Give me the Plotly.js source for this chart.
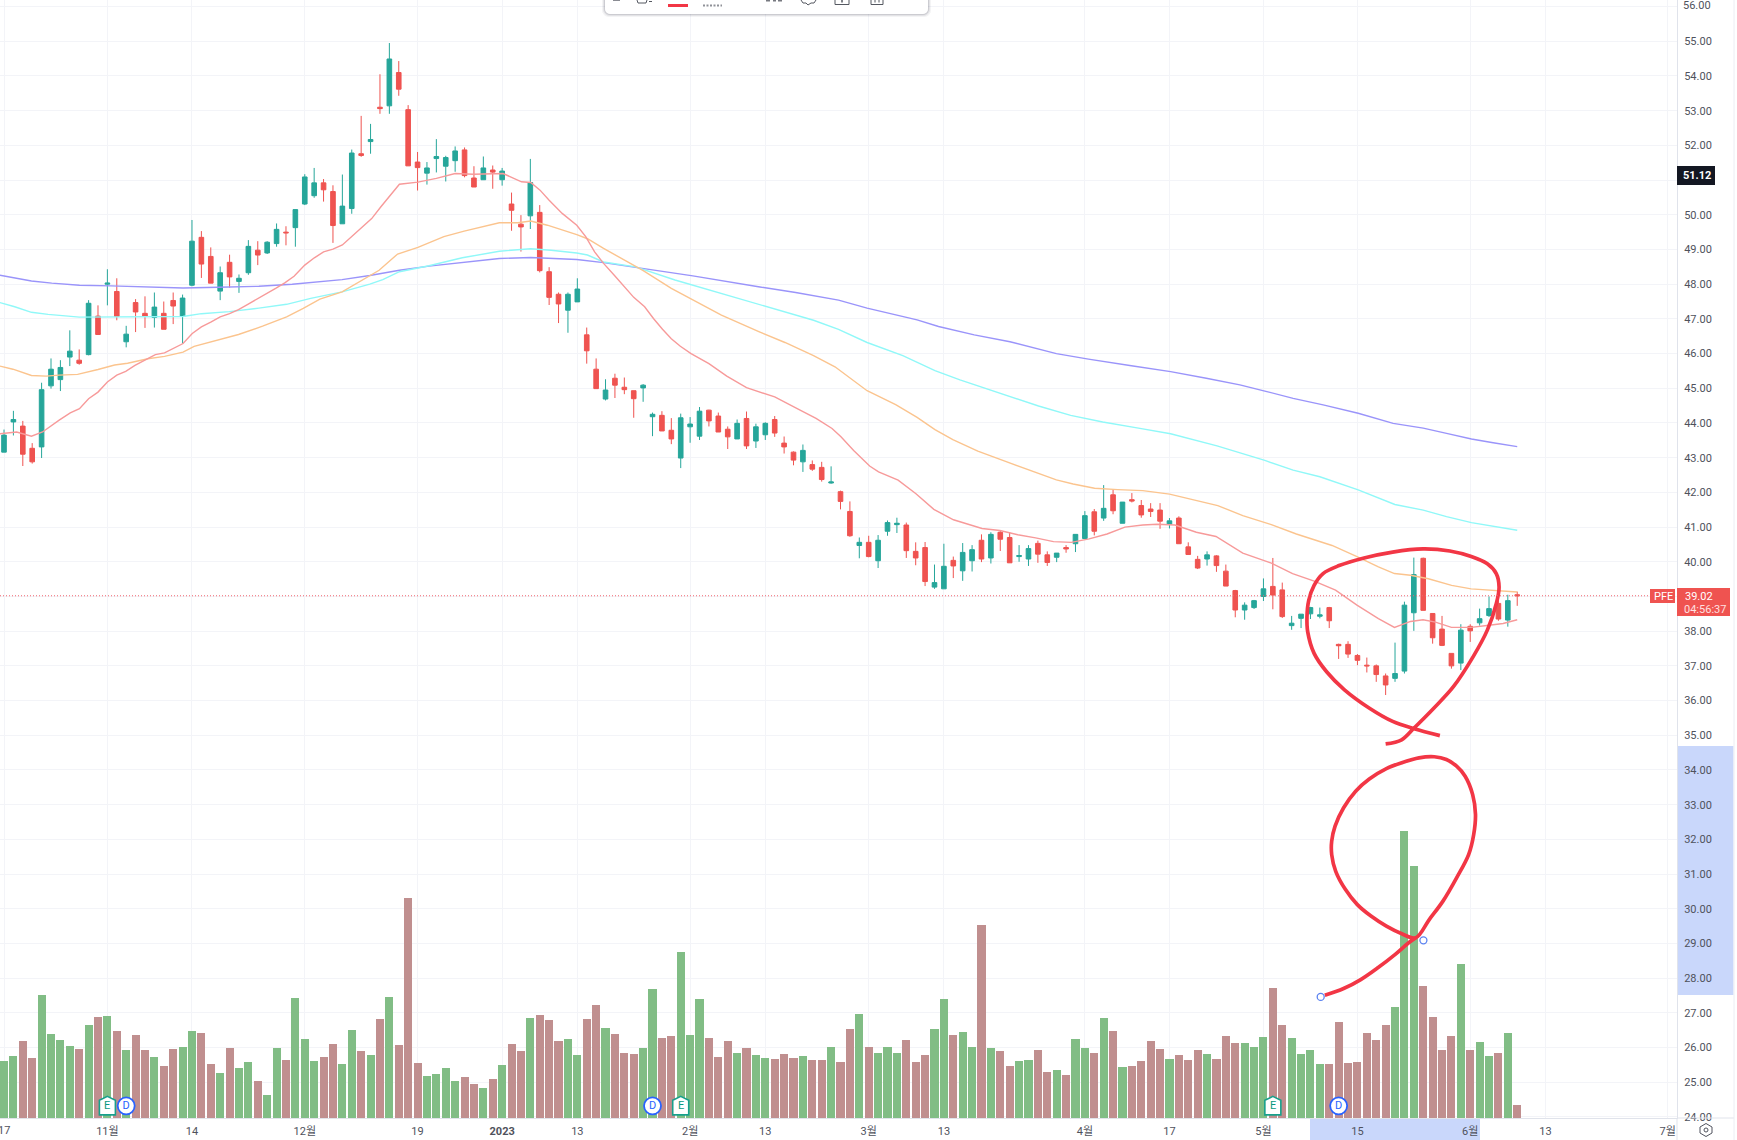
<!DOCTYPE html>
<html>
<head>
<meta charset="utf-8">
<script src="https://cdn.plot.ly/plotly-3.0.1.min.js"></script>
<style>html,body{margin:0;padding:0;background:#fff;overflow:hidden}#chart{width:1737px;height:1140px}</style>
</head>
<body>
<div id="chart"></div>
<script>
const opens = [43.16,44.03,43.91,43.27,43.31,45.07,45.25,45.90,45.81,45.97,
47.08,48.00,47.79,46.34,47.47,47.16,47.04,47.16,47.53,47.07,
47.97,49.35,48.80,47.80,48.63,48.08,48.33,48.98,48.90,49.17,
49.50,49.63,50.31,50.55,50.92,50.67,49.74,50.18,51.76,52.11,
53.10,53.14,54.10,53.03,51.52,51.20,51.62,51.40,51.56,51.87,
51.06,51.01,51.29,51.01,50.31,49.73,49.97,50.07,48.36,47.71,
47.25,47.49,46.54,45.55,44.69,45.29,45.03,44.93,45.01,44.18,
44.22,43.79,42.99,43.89,43.62,44.37,44.20,43.82,43.54,44.13,
43.48,43.66,44.10,43.42,43.16,42.88,42.80,42.72,42.27,42.02,
41.45,40.47,40.56,40.03,40.88,41.07,41.06,40.30,40.41,39.27,
39.22,40.04,39.74,40.03,40.62,40.11,40.85,40.70,40.15,40.08,
40.53,40.20,40.13,40.41,40.52,40.67,41.44,41.26,41.93,41.11,
41.79,41.62,41.52,41.49,41.08,41.26,40.43,40.07,40.08,40.17,
39.73,39.17,38.61,38.68,39.00,39.29,39.19,38.16,38.37,38.50,
38.43,38.68,37.62,37.62,37.30,37.02,37.00,36.71,36.64,36.85,
38.53,40.10,38.51,38.06,37.36,37.08,38.14,38.24,38.45,38.80,
38.32,39.05];
const closes = [43.65,44.10,43.10,42.88,44.96,45.55,45.60,46.07,45.72,47.45,
46.55,48.03,47.07,46.56,47.20,47.07,47.34,46.70,47.37,47.60,
49.24,48.58,48.03,48.33,48.21,48.17,49.09,48.84,49.21,49.58,
49.48,50.15,51.09,50.92,50.72,49.69,50.25,51.78,51.71,52.17,
53.06,54.49,53.62,51.41,51.36,51.35,51.68,51.65,51.84,51.13,
50.80,51.35,51.23,51.26,50.13,49.65,50.93,48.39,47.62,47.43,
47.71,47.86,46.08,44.99,44.95,45.09,44.96,44.70,45.09,44.25,
43.77,43.54,44.15,43.97,44.34,44.06,43.74,43.60,43.99,43.34,
43.89,43.99,43.71,43.31,42.93,43.21,42.67,42.37,42.30,41.74,
40.75,40.56,40.15,40.62,41.13,41.11,40.32,40.11,39.43,39.40,
39.87,39.88,40.27,40.35,40.08,40.79,40.65,39.97,40.18,40.38,
40.22,39.98,40.25,40.37,40.79,41.33,40.88,41.54,41.47,41.72,
41.75,41.35,41.45,41.17,41.18,40.52,40.21,39.82,40.20,39.89,
39.30,38.61,38.75,38.88,39.22,39.04,38.42,38.23,38.49,38.68,
38.47,38.30,37.58,37.34,37.16,37.00,36.75,36.45,36.78,38.75,
39.63,38.60,37.81,37.59,37.00,38.03,38.01,38.36,38.65,38.35,
38.88,39.02];
const highs = [43.81,44.35,44.06,43.42,45.16,45.86,45.81,46.67,46.12,47.54,
47.39,48.43,48.17,46.80,47.57,47.65,47.76,47.50,47.76,47.70,
49.85,49.53,49.06,48.51,48.85,48.28,49.27,49.24,49.24,49.75,
49.67,50.15,51.17,51.35,51.03,50.85,51.16,51.88,52.85,52.62,
54.05,54.95,54.43,53.16,51.81,51.52,52.18,51.70,51.97,51.94,
51.40,51.68,51.42,51.35,50.64,49.99,51.61,50.28,48.49,47.76,
47.76,48.17,46.75,45.86,45.26,45.42,45.31,44.93,45.12,44.30,
44.34,44.14,44.27,44.17,44.46,44.38,44.30,43.90,44.10,44.33,
43.98,44.02,44.20,43.61,43.18,43.38,42.92,42.88,42.75,42.05,
41.74,40.70,40.75,40.77,41.19,41.27,41.13,40.56,40.57,39.92,
40.52,40.15,40.54,40.48,40.79,40.85,40.91,40.85,40.48,40.48,
40.61,40.30,40.25,40.48,40.79,41.46,41.52,42.21,42.09,41.72,
41.98,41.78,41.69,41.69,41.26,41.31,40.56,40.17,40.30,40.19,
39.92,39.19,38.83,38.90,39.52,40.11,39.40,38.44,38.49,38.70,
38.68,38.70,37.64,37.71,37.34,37.24,37.04,36.78,37.67,38.85,
40.12,40.12,38.51,38.44,37.36,38.20,38.20,38.65,39.00,38.89,
39.05,39.14];
const lows = [43.16,43.64,42.76,42.83,42.99,44.99,44.92,45.64,45.68,45.95,
46.55,47.39,46.96,46.18,46.62,46.74,46.75,46.70,46.85,46.29,
47.94,48.18,48.03,47.54,47.90,47.75,48.27,48.55,48.87,49.08,
49.12,49.08,50.28,50.49,50.38,49.19,49.74,50.03,51.67,51.76,
52.91,52.91,53.43,51.41,50.70,50.87,51.22,50.96,51.24,51.08,
50.80,51.01,50.75,50.84,49.54,48.94,49.59,48.34,47.40,46.88,
46.60,47.49,45.71,44.99,44.65,44.72,44.83,44.15,44.61,43.62,
43.77,43.39,42.70,43.43,43.51,43.90,43.74,43.25,43.54,43.25,
43.28,43.51,43.60,43.12,42.78,42.59,42.62,42.31,42.25,41.51,
40.72,40.10,40.13,39.82,40.75,40.83,40.11,39.90,39.30,39.22,
39.22,39.53,39.45,39.72,39.99,39.95,40.31,39.97,40.00,39.88,
39.97,39.88,39.99,40.26,40.28,40.67,40.76,41.18,41.37,41.11,
41.71,41.27,41.29,40.95,40.96,40.52,40.21,39.79,39.89,39.71,
39.30,38.40,38.33,38.64,38.87,38.63,38.38,38.04,38.09,38.35,
38.37,38.09,37.20,37.23,37.02,36.81,36.54,36.16,36.54,36.78,
38.01,38.60,37.64,37.57,36.92,36.88,37.69,38.16,38.41,38.30,
38.13,38.73];
const volumes = [11.4,12.4,15.5,12.1,24.7,16.9,15.7,14.4,13.9,18.7,
20.2,20.5,17.5,13.7,16.6,13.7,12.3,10.4,13.9,14.2,
17.5,17.1,10.8,9.0,14.1,10.1,11.2,7.4,4.7,14.1,
11.7,24.0,15.9,11.5,12.3,14.8,10.8,17.7,13.5,12.6,
19.8,24.3,14.6,44.1,11.0,8.5,8.8,10.1,7.4,8.3,
6.9,6.1,7.8,10.6,14.8,13.5,20.0,20.7,19.7,15.5,
15.9,12.6,19.8,22.7,18.0,16.9,13.1,12.8,14.1,25.9,
16.0,16.4,33.3,16.6,23.8,16.0,12.3,15.5,13.1,14.1,
12.6,12.1,11.9,12.8,12.1,12.4,11.7,11.7,14.2,11.3,
17.8,20.9,14.2,13.0,14.2,13.1,15.7,11.3,12.6,17.8,
23.8,16.6,17.3,14.2,38.6,14.1,13.5,10.5,11.5,11.7,
13.7,9.2,9.7,8.7,15.9,14.1,13.1,20.0,17.5,10.3,
10.5,11.5,15.5,13.9,11.9,12.6,11.7,13.7,12.9,11.9,
16.5,15.1,15.1,14.2,16.2,26.1,18.7,16.0,12.9,13.7,
10.8,10.8,19.3,11.1,11.3,17.1,15.7,18.7,22.3,57.5,
50.4,26.5,20.3,13.7,16.4,30.9,13.7,15.3,12.4,13.1,
17.1,2.7];

const tickIdx = [0,11,20,32,44,53,61,73,81,92,100,115,124,134,144,156,164,177];
const tickText = ['','11월','14','12월','19','<b>2023</b>','13','2월','13','3월','13','4월','17','5월','15','6월','13','7월'];
const firstTickText = '17';
const priceTicks = [24,25,26,27,28,29,30,31,32,33,34,35,36,37,38,39,40,41,42,43,44,45,46,47,48,49,50,51,52,53,54,55,56];

const ma20X = [-0.43,1.34,2.92,4.1,5.87,7.05,8.03,9,10,11,12,12.95,13.93,15.1,16.1,17.08,18.07,19.05,20.03,21,22,23,24,24.95,25.94,26.92,27.9,28.9,29.87,30.86,32,33.02,34,35,36,36.96,37.94,39.12,40.1,41.09,42.07,44.04,46,48,49.94,53.1,55.06,56.04,57.03,58,59.39,60.94,61.89,62.84,63.79,64.93,65.88,67,68.16,69.1,70.06,71,71.96,73.1,75,76.9,79,82,85.06,86.4,88.1,89.05,90.4,92.1,93.05,95.13,97.03,98.93,101.02,104.06,105.96,107.86,109.76,111.66,113.56,115.46,117.36,119.26,121.16,122.68,124.58,126.86,128.95,131.8,134.84,137.1,139.4,141.67,143.95,146.23,147.94,149.65,150.98,152.3,154,156.1,158,159.5,161];
const ma20Y = [43.69,43.74,43.62,43.74,44.08,44.29,44.41,44.70,44.89,45.18,45.38,45.49,45.66,45.83,45.97,46.02,46.16,46.29,46.58,46.77,46.91,47.06,47.15,47.27,47.42,47.57,47.71,47.88,48.04,48.23,48.55,48.76,48.93,49.01,49.13,49.37,49.61,49.89,50.23,50.57,50.88,50.94,51.05,51.19,51.17,51.19,50.95,50.93,50.71,50.42,50.04,49.70,49.37,48.93,48.60,48.26,47.97,47.62,47.35,47.01,46.70,46.43,46.21,46.00,45.71,45.35,45.02,44.75,44.32,44.13,43.84,43.60,43.21,42.76,42.59,42.35,41.96,41.51,41.21,40.96,40.90,40.78,40.69,40.58,40.56,40.66,40.80,41.00,41.06,41.08,41.06,40.85,40.73,40.25,39.96,39.66,39.44,39.18,38.75,38.36,38.11,38.28,38.33,38.26,38.11,38.11,38.17,38.22,38.33];

const ma50X = [-0.43,0.95,2.92,4.49,5.87,7.83,10,11.77,13.15,15.31,17.08,19.05,20.23,22.79,24.95,27.51,30.07,31.84,33.61,35.97,37.94,39.91,41.88,44.04,46.8,48.96,52.7,54.67,56.04,57.81,60.94,62.08,63.79,65.69,67.97,71,73.29,76.33,80.43,83.09,86.13,88.41,91.83,94.87,97.15,99.05,100.95,103.61,106.27,109.31,111.97,113.75,116.03,118.5,121.16,124.01,126.48,129.14,131.8,134.84,137.5,141.3,143.95,146.23,147.94,149.65,151.55,154.02,156.1,158.77,161];
const ma50Y = [45.64,45.55,45.37,45.35,45.38,45.40,45.54,45.67,45.72,45.85,45.92,46.04,46.21,46.40,46.55,46.79,47.06,47.30,47.57,47.78,48.09,48.40,48.87,49.06,49.37,49.53,49.77,49.77,49.82,49.70,49.43,49.31,49.03,48.74,48.40,47.88,47.54,47.11,46.62,46.32,45.94,45.62,44.93,44.53,44.16,43.81,43.52,43.19,42.92,42.61,42.36,42.24,42.12,42.08,42.05,41.95,41.79,41.62,41.33,41.07,40.80,40.47,40.15,39.85,39.66,39.61,39.51,39.32,39.22,39.16,39.13];

const ma100X = [-0.43,1.14,2.92,4.69,8.03,11.38,15.31,19.05,21,23.97,27.12,30.07,32.63,35.97,38.92,40.3,42.07,45.22,48.76,52.7,56.04,58.21,60.94,62.08,63.79,67.2,71.39,76.33,80.43,83.47,86.13,88.79,91.83,95.63,99.05,101.71,106.27,110.07,113.49,116.9,120.7,124.12,129.06,131.49,134.15,137.16,140,144.08,147.98,151,153.48,156.13,161];
const ma100Y = [47.47,47.35,47.19,47.13,47.05,47.05,47.05,47.07,47.15,47.21,47.31,47.42,47.59,47.78,48.00,48.13,48.36,48.53,48.76,48.95,49.02,48.98,48.90,48.84,48.64,48.50,48.12,47.73,47.40,47.18,46.96,46.70,46.32,45.94,45.51,45.24,44.84,44.49,44.22,44.03,43.85,43.69,43.34,43.14,42.92,42.64,42.45,42.07,41.65,41.49,41.30,41.13,40.91];

const ma200X = [-0.43,2.92,5.08,8.03,11.38,15.31,19.05,22.79,27.12,30.66,35.97,38.92,42.07,45.22,48.76,52.7,56.04,60.94,63.79,67.97,73.29,80.43,84.23,88.79,91.83,97.15,99.43,103.23,107.03,111.97,115.38,119.95,124.12,127.92,131.49,134.15,137.16,140.35,144.08,147.8,151,153.48,156.13,158.44,161];
const ma200Y = [48.26,48.09,48.03,47.97,47.95,47.91,47.89,47.91,47.94,48.00,48.13,48.25,48.40,48.52,48.62,48.74,48.77,48.71,48.62,48.46,48.24,47.92,47.76,47.54,47.31,46.97,46.78,46.54,46.34,46.00,45.84,45.65,45.48,45.29,45.10,44.92,44.71,44.52,44.28,43.99,43.85,43.70,43.54,43.43,43.32];

const doodleTopX = [147,148.7,150.03,152.12,154.21,156.3,157.82,158.77,159.07,158.77,157.82,156.11,153.83,150.98,147.75,144.71,142.05,140.34,139.39,138.82,138.63,138.71,139.39,140.72,142.62,145.28,147.75,150.03,152.77];
const doodleTopY = [34.75,34.87,35.21,35.78,36.40,37.26,38.03,38.79,39.27,39.66,39.94,40.15,40.31,40.37,40.28,40.11,39.89,39.66,39.32,38.89,38.41,37.98,37.36,36.83,36.31,35.78,35.40,35.19,34.99];
const doodleTailX = [140.53,142.53,144.35,146.17,147.99,149.45,150.18];
const doodleTailY = [27.51,27.70,27.96,28.30,28.68,29.02,29.16];
const doodleLoopX = [150.18,151.64,153.1,154.55,155.83,156.37,156.56,156.26,155.46,154.55,153.46,152.18,150.55,148.72,147.08,145.26,143.81,142.53,141.62,141.26,141.26,141.69,142.71,143.99,145.44,147.08,148.72,150.18];
const doodleLoopY = [29.16,29.69,30.22,30.89,31.56,32.14,32.72,33.29,33.82,34.11,34.30,34.38,34.35,34.21,34.04,33.74,33.39,32.91,32.38,31.95,31.56,31.08,30.56,30.12,29.79,29.50,29.28,29.16];
const handleX = [140.09,151.02];
const handleY = [27.46,29.09];

const earningsX = [11,72,135];
const dividendX = [13,69,142];
const eventPrice = 24.32;

const lastPrice = 39.02;
const crosshairPrice = 51.12;

const W = 1737, H = 1140, PW = 1677, PH = 1118;
const px = v => v / PW;
const py = v => 1 - v / PH;
const idx = opens.map((_, i) => i);
const UP = '#26a69a', DOWN = '#ef5350';
const volColors = opens.map((o, i) => closes[i] >= o ? '#81bd85' : '#c08f8f');

const lineTrace = (x, y, color, width, shape) => ({
  type: 'scatter', mode: 'lines', x, y, yaxis: 'y2', hoverinfo: 'skip', showlegend: false,
  line: {color, width, shape: shape || 'linear'}
});

const traces = [
  {type: 'bar', x: idx, y: volumes, yaxis: 'y', width: 0.86, hoverinfo: 'skip', showlegend: false,
   marker: {color: volColors, line: {width: 0}}},
  {type: 'candlestick', x: idx, open: opens, high: highs, low: lows, close: closes, yaxis: 'y2',
   width: 0.66, showlegend: false, hoverinfo: 'skip',
   increasing: {line: {color: UP, width: 1}, fillcolor: UP},
   decreasing: {line: {color: DOWN, width: 1}, fillcolor: DOWN}},
  lineTrace(ma200X, ma200Y, '#9a94fa', 1.4),
  lineTrace(ma100X, ma100Y, '#90f8f8', 1.4),
  lineTrace(ma50X, ma50Y, '#fbc48e', 1.4),
  lineTrace(ma20X, ma20Y, '#f79a9a', 1.4),
  lineTrace(doodleTopX, doodleTopY, '#f23645', 3.7, 'spline'),
  lineTrace(doodleTailX, doodleTailY, '#f23645', 3.7, 'spline'),
  lineTrace(doodleLoopX, doodleLoopY, '#f23645', 3.7, 'spline'),
  {type: 'scatter', mode: 'markers', x: handleX, y: handleY, yaxis: 'y2', hoverinfo: 'skip', showlegend: false,
   marker: {size: 7, color: '#ffffff', line: {color: '#5b82f0', width: 1.3}}},
  {type: 'scatter', mode: 'markers+text', x: dividendX, y: dividendX.map(() => eventPrice), yaxis: 'y2',
   hoverinfo: 'skip', showlegend: false, text: dividendX.map(() => 'D'), textposition: 'middle center',
   textfont: {family: 'Roboto, sans-serif', size: 11, color: '#2962ff'},
   marker: {symbol: 'circle', size: 17, color: '#ffffff', line: {color: '#2962ff', width: 1.8}}}
];

const paperRect = (x0, y0, x1, y1, fill, layer) => ({
  type: 'rect', xref: 'paper', yref: 'paper', x0: px(x0), x1: px(x1), y0: py(y0), y1: py(y1),
  fillcolor: fill, line: {width: 0}, layer: layer || 'above'
});
const paperLine = (x0, y0, x1, y1, color, w, dash) => ({
  type: 'line', xref: 'paper', yref: 'paper', x0: px(x0), x1: px(x1), y0: py(y0), y1: py(y1),
  line: {color, width: w || 1, dash: dash || 'solid'}, layer: 'above'
});
const paperPath = (pts, fill, color, w, close) => ({
  type: 'path', xref: 'paper', yref: 'paper',
  path: pts.map((p, i) => (i ? 'L' : 'M') + px(p[0]) + ',' + py(p[1])).join(' ') + (close ? ' Z' : ''),
  fillcolor: fill || 'rgba(0,0,0,0)', line: {color: color || 'rgba(0,0,0,0)', width: w || 0}, layer: 'above'
});
const roundedBox = (x0, x1, yb, r) => {
  const pts = [[x0, -2], [x0, yb - r]];
  const n = 5;
  for (let k = 1; k <= n; k++) { const a = Math.PI * k / (2 * n); pts.push([x0 + r - r * Math.cos(a), yb - r + r * Math.sin(a)]); }
  for (let k = 0; k <= n; k++) { const a = Math.PI * k / (2 * n); pts.push([x1 - r + r * Math.sin(a), yb - r + r * Math.cos(a)]); }
  pts.push([x1, -2]);
  return pts;
};
const hexPts = [[1706, 1123.5], [1712, 1127], [1712, 1133], [1706, 1136.5], [1700, 1133], [1700, 1127]];

const earningsBadges = earningsX.map(i => ({
  type: 'path', xref: 'x', yref: 'y2', xsizemode: 'pixel', ysizemode: 'pixel', xanchor: i, yanchor: eventPrice,
  path: 'M0,9.5 L8,5.5 L8,-9 L-8,-9 L-8,5.5 Z',
  fillcolor: '#ffffff', line: {color: '#17a08c', width: 1.6}, layer: 'above'
}));

const shapes = [
  paperRect(1677, 746, 1733.5, 995, '#c9d7fb', 'below'),
  paperRect(1310, 1118, 1480, 1140, '#c9d7fb', 'below'),
  paperLine(1677, 1118, 1677, 1140, '#e0e3eb'),
  paperLine(1677, 1118, 1734, 1118, '#e0e3eb'),
  paperLine(1734, 0, 1734, 1140, '#eceef4'),
  {type: 'line', xref: 'paper', yref: 'y2', x0: 0, x1: 1, y0: lastPrice, y1: lastPrice,
   line: {color: '#f0636c', width: 1, dash: '1px,2px'}, layer: 'above'},
  paperRect(1650, 589, 1675, 603, '#ef5350'),
  paperRect(1677, 588, 1730, 616, '#ef5350'),
  paperRect(1677, 166, 1715, 185, '#131722'),
  paperPath(roundedBox(602, 931, 17, 7), 'rgba(40,44,60,0.05)'),
  paperPath(roundedBox(603, 930, 16, 7), 'rgba(40,44,60,0.08)'),
  paperPath(roundedBox(604, 929, 15, 6), 'rgba(40,44,60,0.12)'),
  paperPath(roundedBox(605, 928, 14, 5), '#ffffff'),
  paperRect(668, 4, 688, 7, '#f23645'),
  paperLine(703, 5.5, 722, 5.5, '#8f9198', 2, '2px,1.5px'),
  paperLine(613, 0.5, 620, 0.5, '#8a8c93', 1),
  paperPath([[637, 0], [638, 3], [646, 3], [647, 0]], null, '#555861', 1),
  paperLine(649, 1.5, 652, 1.5, '#555861', 1),
  paperLine(766, 0.8, 770, 0.8, '#555861', 1.2),
  paperLine(773, 0.8, 776, 0.8, '#555861', 1.2),
  paperLine(778, 0.8, 782, 0.8, '#555861', 1.2),
  paperPath([[801, 0], [803, 3], [806, 3], [808, 5], [811, 3], [814, 3], [816, 0]], null, '#555861', 1),
  paperPath([[835, 0], [835, 4.5], [849, 4.5], [849, 0]], null, '#555861', 1),
  paperLine(842, 0, 842, 2.5, '#555861', 1.5),
  paperPath([[871, 0], [871, 4.5], [883, 4.5], [883, 0]], null, '#555861', 1),
  paperLine(875, 0, 875, 2.5, '#555861', 1),
  paperLine(879, 0, 879, 2.5, '#555861', 1),
  paperPath(hexPts, '#ffffff', '#50535e', 1, true),
  {type: 'circle', xref: 'paper', yref: 'paper', x0: px(1704), x1: px(1708), y0: py(1128), y1: py(1132),
   fillcolor: 'rgba(0,0,0,0)', line: {color: '#50535e', width: 1}, layer: 'above'}
].concat(earningsBadges);

const labelAnn = (pxX, pxY, text, color, size, bold) => ({
  xref: 'paper', yref: 'paper', x: px(pxX), y: py(pxY), text: bold ? '<b>' + text + '</b>' : text,
  showarrow: false, xanchor: 'center', yanchor: 'middle', borderpad: 0,
  font: {family: 'Roboto, sans-serif', size, color}
});

const annotations = [
  labelAnn(1663, 596, 'PFE', '#ffffff', 11),
  labelAnn(1698.5, 596, lastPrice.toFixed(2), '#ffffff', 11),
  labelAnn(1705, 609, '04:56:37', '#ffe0e0', 11),
  labelAnn(1697, 175.5, crosshairPrice.toFixed(2), '#ffffff', 11, true),
  labelAnn(1697, 5.5, (56).toFixed(2), '#4f525c', 11),
  labelAnn(4, 1130, firstTickText, '#4f525c', 11)
].concat(earningsX.map(i => ({
  xref: 'x', yref: 'y2', x: i, y: eventPrice, text: 'E', showarrow: false, borderpad: 0,
  xanchor: 'center', yanchor: 'middle',
  font: {family: 'Roboto, sans-serif', size: 11, color: '#089981'}
})));

const layout = {
  width: W, height: H,
  margin: {l: 0, r: W - PW, t: 0, b: H - PH, pad: 0},
  paper_bgcolor: '#ffffff', plot_bgcolor: '#ffffff',
  showlegend: false, dragmode: false, bargap: 0,
  xaxis: {
    type: 'linear', range: [-0.426, 178.0], rangeslider: {visible: false},
    tickmode: 'array', tickvals: tickIdx, ticktext: tickText,
    showgrid: true, gridcolor: '#f3f4f8', gridwidth: 1, zeroline: false,
    showline: true, linecolor: '#e0e3eb', linewidth: 1, ticks: '',
    ticklabelstandoff: 3,
    tickfont: {family: 'Roboto, "Noto Sans CJK KR", sans-serif', size: 11, color: '#4f525c'}
  },
  yaxis: {
    range: [0, 223.6], visible: false, showgrid: false, zeroline: false, fixedrange: true
  },
  yaxis2: {
    overlaying: 'y', side: 'right', anchor: 'x',
    range: [23.97, 56.19], tickmode: 'array', tickvals: priceTicks,
    ticktext: priceTicks.map(v => v === 51 || v === 56 ? '' : v.toFixed(2)),
    showgrid: true, gridcolor: '#f3f4f8', gridwidth: 1, zeroline: false,
    showline: true, linecolor: '#e0e3eb', linewidth: 1, ticks: '',
    ticklabelstandoff: 4,
    tickfont: {family: 'Roboto, sans-serif', size: 11, color: '#4f525c'}
  },
  shapes, annotations
};

Plotly.newPlot('chart', traces, layout, {displayModeBar: false, staticPlot: true});
</script>
</body>
</html>
